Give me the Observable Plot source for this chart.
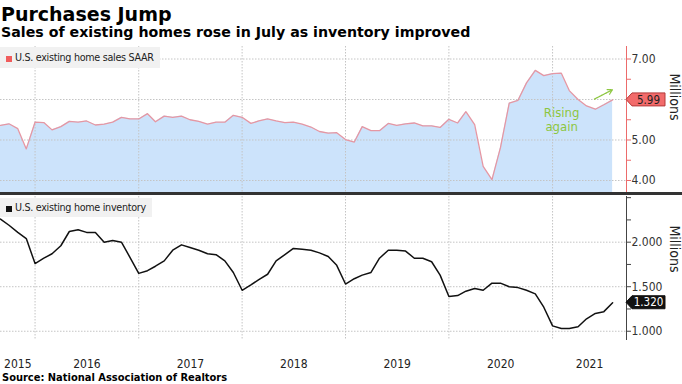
<!DOCTYPE html>
<html><head><meta charset="utf-8">
<script src="https://cdn.jsdelivr.net/npm/d3@7"></script>
<script src="https://cdn.jsdelivr.net/npm/@observablehq/plot@0.6"></script>
<style>
body{margin:0;background:#fff;}
#wrap{position:relative;width:682px;height:384px;overflow:hidden;font-family:"DejaVu Sans",sans-serif;color:#000;}
.t{position:absolute;white-space:nowrap;line-height:1;}
#title{left:1px;top:5px;font-size:19px;font-weight:bold;}
#sub{left:1px;top:25px;font-size:14.2px;font-weight:bold;}
#src{left:2px;top:372px;font-size:11px;font-weight:bold;font-family:"DejaVu Sans Condensed","DejaVu Sans",sans-serif;font-stretch:condensed;}
.leg{position:absolute;left:0;background:#f1f1f1;font-family:"DejaVu Sans Condensed","DejaVu Sans",sans-serif;font-stretch:condensed;font-size:10.7px;letter-spacing:-0.3px;color:#222;padding:0 6px 0 6px;display:flex;align-items:center;white-space:nowrap;}
.sw{display:inline-block;width:6px;height:6px;margin-right:3px;margin-top:2px;}
#sep{position:absolute;left:0;width:682px;top:192px;height:3px;background:#333;}
#wrap svg{position:absolute;left:0;}
</style></head>
<body>
<div id="wrap">
  <div class="t" id="title">Purchases Jump</div>
  <div class="t" id="sub">Sales of existing homes rose in July as inventory improved</div>
  <div class="t" id="src">Source: National Association of Realtors</div>
</div>
<script>
// Monthly observations, Aug 2015 .. Jul 2021 (plotted at month end)
const firstMonth = "2015-08";
const salesValues = [
  5.36, 5.40, 5.28, 4.78, 5.44, 5.43, 5.25, 5.33, 5.46, 5.44, 5.47, 5.37,
  5.39, 5.44, 5.56, 5.52, 5.52, 5.65, 5.45, 5.59, 5.56, 5.59, 5.50, 5.46,
  5.39, 5.44, 5.44, 5.61, 5.56, 5.41, 5.47, 5.52, 5.47, 5.43, 5.44, 5.39,
  5.32, 5.21, 5.17, 5.18, 5.01, 4.95, 5.33, 5.23, 5.23, 5.41, 5.36, 5.40,
  5.42, 5.35, 5.35, 5.31, 5.51, 5.42, 5.70, 5.38, 4.35, 4.02, 4.81, 5.91,
  5.98, 6.41, 6.72, 6.59, 6.64, 6.65, 6.22, 6.00, 5.84, 5.76, 5.87, 5.99
];
const inventoryValues = [
  2.26, 2.19, 2.11, 2.04, 1.76, 1.82, 1.87, 1.96, 2.12, 2.14, 2.11, 2.11,
  2.00, 2.02, 2.00, 1.83, 1.65, 1.68, 1.73, 1.79, 1.91, 1.97, 1.94, 1.91,
  1.87, 1.86, 1.79, 1.66, 1.46, 1.52, 1.58, 1.64, 1.79, 1.86, 1.93, 1.92,
  1.91, 1.88, 1.84, 1.74, 1.53, 1.59, 1.63, 1.66, 1.82, 1.91, 1.91, 1.90,
  1.82, 1.82, 1.78, 1.63, 1.39, 1.40, 1.45, 1.48, 1.46, 1.54, 1.54, 1.50,
  1.49, 1.46, 1.42, 1.27, 1.06, 1.03, 1.03, 1.05, 1.14, 1.20, 1.22, 1.32
];
const yearLabels = [2015, 2016, 2017, 2018, 2019, 2020, 2021];
const salesTicks = [4, 4.5, 5, 5.5, 6, 6.5, 7];
const salesGrid = [4, 5, 6, 7];
const salesTickLabels = [4, 5, 7];          // 6.00 sits under the value tag
const invTicks = [1, 1.25, 1.5, 1.75, 2, 2.25, 2.5];
const invGrid = [1, 1.5, 2];
const invTickLabels = [1, 1.5, 2];
const salesLegend = "U.S. existing home sales SAAR";
const invLegend = "U.S. existing home inventory";
const annotationText = "Rising\nagain";

const start = d3.utcParse("%Y-%m")(firstMonth);
const dateOf = i => d3.utcMonth.offset(start, i + 1); // month-end position
const sales = salesValues.map((v, i) => ({date: dateOf(i), value: v}));
const inventory = inventoryValues.map((v, i) => ({date: dateOf(i), value: v}));

const xDomain = [dateOf(0), new Date(Date.UTC(2021, 8, 19))];
const yearStarts = yearLabels.slice(1).map(y => new Date(Date.UTC(y, 0, 1)));
const yearMid = yearLabels.map(y => {
  const a = Math.max(+new Date(Date.UTC(y, 0, 1)), +xDomain[0]);
  const b = Math.min(+new Date(Date.UTC(y + 1, 0, 1)), +xDomain[1]);
  return {year: String(y), date: new Date((a + b) / 2)};
});

const FONT = '"DejaVu Sans Condensed","DejaVu Sans",sans-serif';
const GRID = {stroke: "#c4c4c4", strokeDasharray: "1.5,1.5", strokeWidth: 1};
const GREEN = "#8cc63f";

function tag(value, label, fill, stroke, textFill) {
  return (index, scales, values, dims) => {
    const y = scales.y(value);
    const x0 = dims.width - dims.marginRight;
    const h = 13, w = 39, p = 6;
    const g = d3.create("svg:g");
    g.append("path")
      .attr("d", `M${x0},${y}L${x0 + p},${y - h / 2}H${x0 + w}V${y + h / 2}H${x0 + p}Z`)
      .attr("fill", fill).attr("stroke", stroke).attr("stroke-width", 1);
    g.append("text")
      .attr("x", x0 + p + (w - p) / 2).attr("y", y).attr("dy", "0.36em")
      .attr("text-anchor", "middle").attr("fill", textFill)
      .attr("font-size", 11.5).attr("font-family", FONT)
      .text(label);
    return g.node();
  };
}

const sMin = 3.654, sMax = 7.309;
const topPlot = Plot.plot({
  width: 682, height: 149,
  marginTop: 1, marginBottom: 0, marginLeft: 0, marginRight: 56,
  x: {type: "utc", domain: xDomain, axis: null},
  y: {domain: [sMin, sMax], axis: null},
  style: {fontFamily: FONT, fontSize: "12px", fontStretch: "condensed", overflow: "visible", background: "transparent"},
  marks: [
    Plot.areaY(sales, {x: "date", y1: sMin, y2: "value", fill: "#cce3fb"}),
    Plot.ruleX(yearStarts, GRID),
    Plot.ruleY(salesGrid, GRID),
    Plot.lineY(sales, {x: "date", y: "value", stroke: "#e597a3", strokeWidth: 1.3}),
    Plot.ruleX([xDomain[1]], {stroke: "#ec6b6b", strokeWidth: 1}),
    Plot.axisY(salesTicks, {anchor: "right", label: null, tickSize: 4, tickPadding: 1, stroke: "#ec6b6b", fill: "#333",
      tickFormat: d => salesTickLabels.includes(d) ? d.toFixed(2) : ""}),
    Plot.text(["Millions"], {frameAnchor: "right", dx: 48, rotate: 90, fontSize: 14, fill: "#222"}),
    Plot.text([annotationText], {x: new Date(Date.UTC(2021, 1, 2)), y: 5.5, fill: GREEN, fontSize: 13, lineHeight: 1.05}),
    Plot.arrow([0], {x1: new Date(Date.UTC(2021, 4, 29)), y1: 6.01, x2: new Date(Date.UTC(2021, 6, 31)), y2: 6.24,
      stroke: GREEN, strokeWidth: 1.3, strokeDasharray: "1.5,1", headLength: 6}),
    tag(salesValues[salesValues.length - 1], salesValues[salesValues.length - 1].toFixed(2), "#f26b6b", "#b33a3a", "#222")
  ]
});
topPlot.style.top = "45px";

const iMin = 0.896, iMax = 2.513;
const botPlot = Plot.plot({
  width: 682, height: 179,
  marginTop: 1, marginBottom: 34, marginLeft: 0, marginRight: 56,
  x: {type: "utc", domain: xDomain, axis: null},
  y: {domain: [iMin, iMax], axis: null},
  style: {fontFamily: FONT, fontSize: "12px", fontStretch: "condensed", overflow: "visible", background: "transparent"},
  marks: [
    Plot.ruleX(yearStarts, GRID),
    Plot.ruleY(invGrid, GRID),
    Plot.lineY(inventory, {x: "date", y: "value", stroke: "#111", strokeWidth: 1.5}),
    Plot.ruleX([xDomain[1]], {stroke: "#444", strokeWidth: 1}),
    Plot.axisY(invTicks, {anchor: "right", label: null, tickSize: 4, tickPadding: 1, stroke: "#444", fill: "#333",
      tickFormat: d => invTickLabels.includes(d) ? d3.format(",.3f")(d) : ""}),
    Plot.text(["Millions"], {frameAnchor: "right", dx: 48, dy: 4, rotate: 90, fontSize: 14, fill: "#222"}),
    Plot.text(yearMid, {x: "date", text: "year", frameAnchor: "bottom", lineAnchor: "middle", dy: 23.5, fontSize: 12, fill: "#222"}),
    tag(inventoryValues[inventoryValues.length - 1], inventoryValues[inventoryValues.length - 1].toFixed(3), "#111", "#111", "#fff")
  ]
});
botPlot.style.top = "195px";

const wrap = document.getElementById("wrap");
wrap.appendChild(topPlot);
wrap.appendChild(botPlot);
const sep = document.createElement("div"); sep.id = "sep"; wrap.appendChild(sep);

function legend(text, color, top, height) {
  const d = document.createElement("div");
  d.className = "leg";
  d.style.top = top + "px"; d.style.height = height + "px";
  d.innerHTML = `<span class="sw" style="background:${color}"></span><span></span>`;
  d.lastChild.textContent = text;
  wrap.appendChild(d);
}
legend(salesLegend, "#f05c5c", 47, 21);
legend(invLegend, "#111", 198, 19);
</script>
</body></html>
